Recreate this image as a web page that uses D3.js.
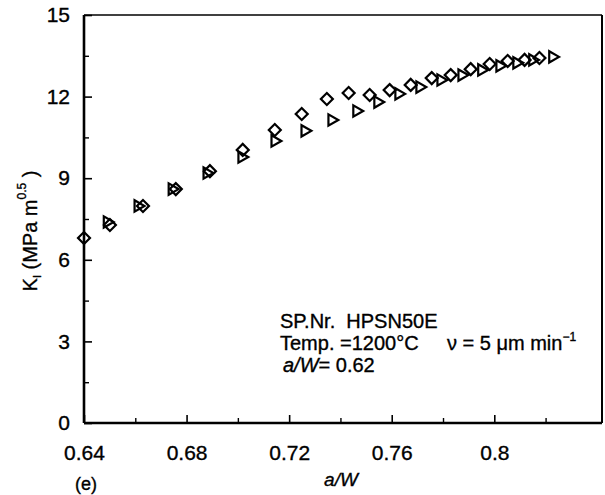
<!DOCTYPE html>
<html>
<head>
<meta charset="utf-8">
<script src="https://cdn.jsdelivr.net/npm/d3@7"></script>
<style>
html,body{margin:0;padding:0;background:#fff;}
svg{display:block;font-family:"Liberation Sans",Arial,Helvetica,sans-serif;}
text{stroke:#000;stroke-width:0.35px;}
</style>
</head>
<body>
<svg id="chart" width="605" height="495"></svg>
<script>
// ---- data ----
const diamondX = [0.640,0.6501,0.6630,0.6758,0.6891,0.7019,0.7144,0.7249,0.7347,0.7432,0.7514,0.7592,0.7674,0.7756,0.7830,0.7908,0.7982,0.8052,0.8118,0.8176];
const diamondY = [6.80,7.28,7.98,8.60,9.26,10.04,10.77,11.36,11.91,12.13,12.06,12.24,12.43,12.68,12.79,13.01,13.20,13.31,13.35,13.42];
const triangleX = [0.6490,0.6610,0.6743,0.6879,0.7015,0.7144,0.7261,0.7366,0.7463,0.7545,0.7627,0.7709,0.7791,0.7873,0.7950,0.8021,0.8087,0.8149,0.8227];
const triangleY = [7.39,7.98,8.60,9.19,9.78,10.37,10.74,11.14,11.47,11.80,12.10,12.35,12.61,12.79,12.98,13.13,13.24,13.35,13.46];
const xTicks = [0.64,0.68,0.72,0.76,0.80];
const xTickLabels = ["0.64","0.68","0.72","0.76","0.8"];
const xMinor = [0.66,0.70,0.74,0.78,0.82];
const yTicks = [0,3,6,9,12,15];
const yTickLabels = ["0","3","6","9","12","15"];
const yMinor = [1.5,4.5,7.5,10.5,13.5];

// ---- layout ----
const svg = d3.select("#chart");
const L = 84, R = 602, T = 15, B = 423;
const x = d3.scaleLinear().domain([0.64, 0.842]).range([L, R]);
const y = d3.scaleLinear().domain([0, 15]).range([B, T]);

// frame
svg.append("line").attr("x1",L).attr("x2",R).attr("y1",T).attr("y2",T).attr("stroke","#000").attr("stroke-width",1.6);
svg.append("line").attr("x1",R).attr("x2",R).attr("y1",T).attr("y2",B).attr("stroke","#000").attr("stroke-width",2);

// axes
const fs = 21;
const xAxis = d3.axisBottom(x).tickValues(xTicks).tickSize(-8).tickPadding(22)
  .tickFormat((d,i)=>xTickLabels[i]);
const gx = svg.append("g").attr("transform",`translate(0,${B})`).call(xAxis);
gx.select(".domain").attr("stroke-width",2.6).attr("d",`M${L},0H${R}`);
gx.selectAll(".tick line").attr("stroke-width",1.6);
gx.selectAll("text").attr("font-size",fs).attr("font-family","Liberation Sans, Arial, sans-serif").attr("fill","#000");
svg.append("g").attr("transform",`translate(0,${B})`)
  .call(d3.axisBottom(x).tickValues(xMinor).tickSize(-5).tickFormat(""))
  .call(g=>{g.select(".domain").remove(); g.selectAll("line").attr("stroke-width",1.4);});

const yAxis = d3.axisLeft(y).tickValues(yTicks).tickSize(-8).tickPadding(14)
  .tickFormat((d,i)=>yTickLabels[i]);
const gy = svg.append("g").attr("transform",`translate(${L},0)`).call(yAxis);
gy.select(".domain").attr("stroke-width",2.6).attr("d",`M0,${B}V${T}`);
gy.selectAll(".tick line").attr("stroke-width",1.6);
gy.selectAll("text").attr("font-size",fs).attr("font-family","Liberation Sans, Arial, sans-serif").attr("fill","#000");
svg.append("g").attr("transform",`translate(${L},0)`)
  .call(d3.axisLeft(y).tickValues(yMinor).tickSize(-5).tickFormat(""))
  .call(g=>{g.select(".domain").remove(); g.selectAll("line").attr("stroke-width",1.4);});

// markers
const diamondPath = d3.symbol().type(d3.symbolSquare).size(72)();
const trianglePath = d3.symbol().type(d3.symbolTriangle).size(56)();
svg.append("g").selectAll("path").data(diamondX.map((v,i)=>[v,diamondY[i]])).join("path")
  .attr("d",diamondPath)
  .attr("transform",d=>`translate(${x(d[0])},${y(d[1])}) rotate(45)`)
  .attr("fill","none").attr("stroke","#000").attr("stroke-width",2.2);
svg.append("g").selectAll("path").data(triangleX.map((v,i)=>[v,triangleY[i]])).join("path")
  .attr("d",trianglePath)
  .attr("transform",d=>`translate(${x(d[0])},${y(d[1])}) rotate(90)`)
  .attr("fill","none").attr("stroke","#000").attr("stroke-width",2.2);

// axis titles
const yt = svg.append("text").attr("transform","translate(37,231) rotate(-90)")
  .attr("text-anchor","middle").attr("font-size",20).attr("fill","#000");
yt.append("tspan").text("K");
yt.append("tspan").attr("font-size",11).attr("dy",4).text("I");
yt.append("tspan").attr("dy",-4).text(" (MPa m");
yt.append("tspan").attr("font-size",12).attr("dy",-11).text("0.5");
yt.append("tspan").attr("dy",11).text(" )");

svg.append("text").attr("x",341).attr("y",486).attr("text-anchor","middle")
  .attr("font-size",19).attr("font-style","italic").attr("fill","#000").text("a/W");
svg.append("text").attr("x",75).attr("y",490).attr("font-size",18).attr("fill","#000").text("(e)");

// annotation
const ann = svg.append("g").attr("font-size",20).attr("fill","#000");
ann.append("text").attr("x",280).attr("y",328).attr("xml:space","preserve").text("SP.Nr.  HPSN50E");
ann.append("text").attr("x",280).attr("y",350).text("Temp. =1200°C");
const a3 = ann.append("text").attr("x",283).attr("y",372);
a3.append("tspan").attr("font-style","italic").text("a/W");
a3.append("tspan").text("= 0.62");
const nu = ann.append("text").attr("x",447).attr("y",350);
nu.append("tspan").text("ν = 5 μm min");
nu.append("tspan").attr("font-size",12).attr("dy",-9).text("−1");
</script>
</body>
</html>
